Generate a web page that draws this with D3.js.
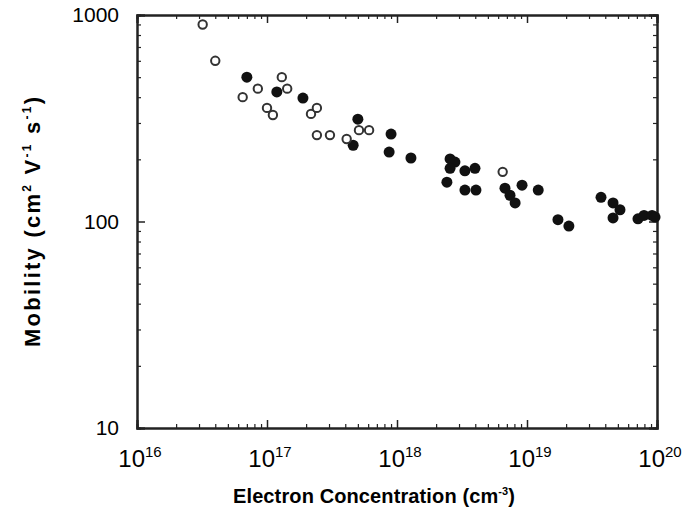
<!DOCTYPE html>
<html lang="en">
  <head>
    <meta charset="utf-8">
    <script src="https://cdn.jsdelivr.net/npm/d3@7"></script>
    <style>
      body { margin: 0; background: #fff; }
      .axis path, .axis line { stroke: #222; }
      .axis path { stroke-width: 2px; }
      .tick-label { font-family: "Liberation Sans", Arial, sans-serif; font-size: 21px; fill: #000; }
      .title { font-family: "Liberation Sans", Arial, sans-serif; font-weight: bold; font-size: 20px; fill: #000; }
    </style>
  </head>
  <body>
    <div id="chart"></div>
    <script>
      // electron concentration (cm^-3) and mobility (cm^2 V^-1 s^-1)
      var openConc = [3.2e16, 4.0e16, 6.5e16, 8.5e16, 1.3e17, 1.43e17, 1.0e17, 1.11e17,
                      2.18e17, 2.42e17, 2.42e17, 3.05e17, 4.1e17, 5.1e17, 6.1e17, 6.5e18];
      var openMob  = [900, 600, 400, 440, 500, 440, 355, 328,
                      332, 355, 262, 262, 251, 277, 277, 174];

      var filledConc = [7.0e16, 1.19e17, 1.89e17, 4.6e17, 5.0e17, 9.0e17, 8.7e17, 1.28e18,
                        2.56e18, 2.79e18, 2.56e18, 2.42e18, 3.33e18, 3.98e18, 3.33e18, 4.05e18,
                        6.77e18, 7.4e18, 8.1e18, 9.16e18, 1.22e19, 1.73e19, 2.1e19, 3.71e19,
                        4.59e19, 5.19e19, 4.59e19, 7.14e19, 7.94e19, 9.16e19, 9.66e19];
      var filledMob  = [500, 424, 396, 234, 313, 265, 217, 203,
                        201, 194, 181, 155, 176, 181, 142, 142,
                        145, 134, 123, 150, 142, 102, 95, 131,
                        123, 114, 104, 103, 107, 107, 105];

      var xTicks = [1e16, 1e17, 1e18, 1e19, 1e20];
      var xExps = ["16", "17", "18", "19", "20"];
      var yTicks = [10, 100, 1000];
      var yLabels = ["10", "100", "1000"];

      var W = 682, H = 514;
      var margin = {top: 15, right: 25, bottom: 86, left: 137};
      var width = W - margin.left - margin.right,
          height = H - margin.top - margin.bottom;

      var svg = d3.select("#chart").append("svg")
          .attr("width", W).attr("height", H);
      var g = svg.append("g")
          .attr("transform", "translate(" + margin.left + "," + margin.top + ")");

      var x = d3.scaleLog().domain([1e16, 1e20]).range([0, width]);
      var y = d3.scaleLog().domain([10, 1000]).range([height, 0]);

      // minor tick values for each decade
      var xMinor = [], yMinor = [];
      xTicks.slice(0, -1).forEach(function(d) {
        for (var k = 2; k < 10; k++) xMinor.push(d * k);
      });
      yTicks.slice(0, -1).forEach(function(d) {
        for (var k = 2; k < 10; k++) yMinor.push(d * k);
      });

      function addAxes(axisFn, scale, major, minor, transform) {
        g.append("g").attr("class", "axis").attr("transform", transform)
          .call(axisFn(scale).tickValues(minor).tickSize(-4).tickFormat(""))
          .selectAll("line").attr("stroke-width", 1.2);
        g.append("g").attr("class", "axis").attr("transform", transform)
          .call(axisFn(scale).tickValues(major).tickSize(-8).tickFormat(""))
          .selectAll("line").attr("stroke-width", 1.5);
      }
      addAxes(d3.axisBottom, x, xTicks, xMinor, "translate(0," + height + ")");
      addAxes(d3.axisTop, x, xTicks, xMinor, "translate(0,0)");
      addAxes(d3.axisLeft, y, yTicks, yMinor, "translate(0,0)");
      addAxes(d3.axisRight, y, yTicks, yMinor, "translate(" + width + ",0)");

      // y tick labels
      g.selectAll(".ylab").data(yTicks).enter().append("text")
        .attr("class", "tick-label")
        .attr("x", -18)
        .attr("y", function(d) { return y(d) + 7; })
        .attr("text-anchor", "end")
        .text(function(d, i) { return yLabels[i]; });

      // x tick labels with superscript exponents
      var xl = g.selectAll(".xlab").data(xTicks).enter().append("text")
        .attr("class", "tick-label")
        .style("font-size", "24px")
        .attr("x", function(d) { return x(d) + 3; })
        .attr("y", height + 39)
        .attr("text-anchor", "middle");
      xl.append("tspan").text("10");
      xl.append("tspan").attr("dy", -10).style("font-size", "15px")
        .text(function(d, i) { return xExps[i]; });

      // axis titles
      var xt = svg.append("text").attr("class", "title")
        .attr("x", 233)
        .attr("y", 503)
        .attr("textLength", 282)
        .attr("lengthAdjust", "spacing");
      xt.append("tspan").text("Electron Concentration (cm");
      xt.append("tspan").attr("dy", -8).style("font-size", "11px").text("-3");
      xt.append("tspan").attr("dy", 8).text(")");

      var yt = svg.append("text").attr("class", "title")
        .style("font-size", "22px")
        .attr("transform", "translate(40,347) rotate(-90)")
        .attr("textLength", 250)
        .attr("lengthAdjust", "spacing");
      yt.append("tspan").text("Mobility (cm");
      yt.append("tspan").attr("dy", -9).style("font-size", "12px").text("2");
      yt.append("tspan").attr("dy", 9).text(" V");
      yt.append("tspan").attr("dy", -9).style("font-size", "12px").text("-1");
      yt.append("tspan").attr("dy", 9).text(" s");
      yt.append("tspan").attr("dy", -9).style("font-size", "12px").text("-1");
      yt.append("tspan").attr("dy", 9).text(")");

      // data points
      var filled = d3.zip(filledConc, filledMob);
      var open = d3.zip(openConc, openMob);

      g.selectAll(".filled").data(filled).enter().append("circle")
        .attr("cx", function(d) { return x(d[0]); })
        .attr("cy", function(d) { return y(d[1]); })
        .attr("r", 5.5)
        .attr("fill", "#111");

      g.selectAll(".open").data(open).enter().append("circle")
        .attr("cx", function(d) { return x(d[0]); })
        .attr("cy", function(d) { return y(d[1]); })
        .attr("r", 4.2)
        .attr("fill", "#fff")
        .attr("stroke", "#333")
        .attr("stroke-width", 2);
    </script>
  </body>
</html>
